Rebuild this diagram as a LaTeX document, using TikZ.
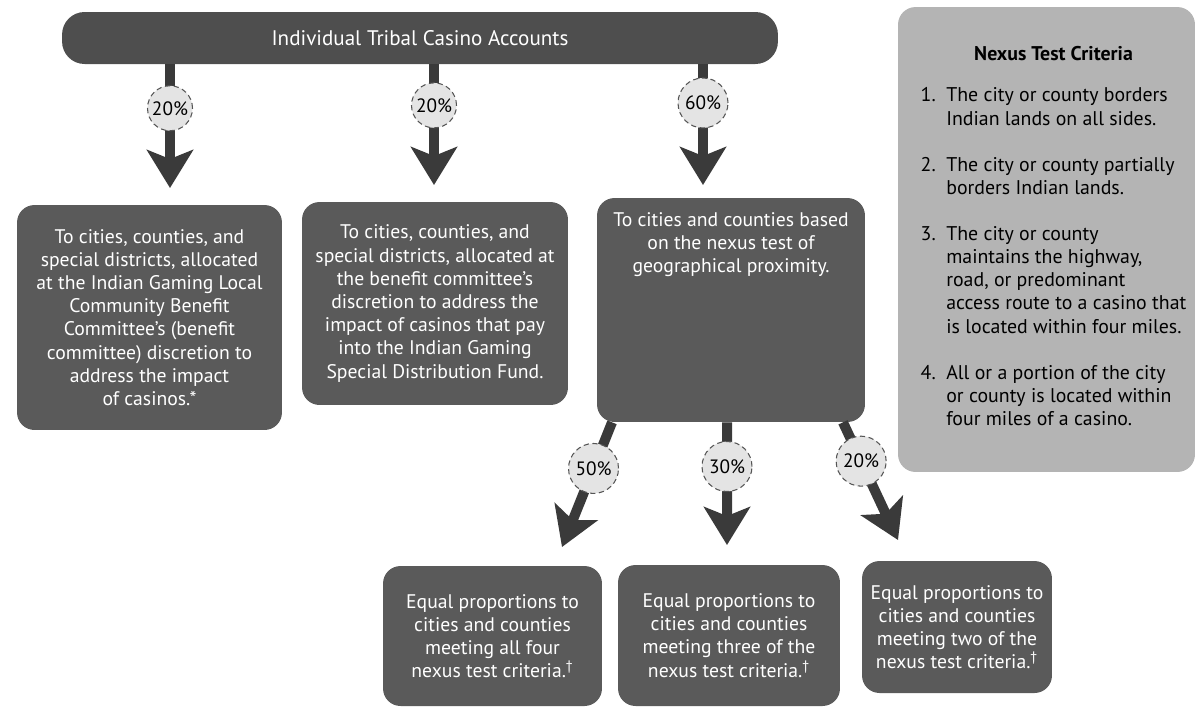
\documentclass[tikz,border=0pt]{standalone}
\usepackage{fontspec}
\setmainfont{PT Sans}
\usetikzlibrary{arrows.meta}
\definecolor{bargray}{HTML}{4E4E4E}
\definecolor{boxgray}{HTML}{5A5A5A}
\definecolor{critgray}{HTML}{B4B4B4}
\definecolor{pctgray}{HTML}{E4E4E4}
\definecolor{pctline}{HTML}{555555}
\definecolor{arrowgray}{HTML}{3A3A3A}

\begin{document}
\begin{tikzpicture} [x=0.02cm,y=-0.02cm,
	bar/.style={shape=rectangle,rounded corners=0.45cm,minimum width=14.32cm,minimum height=1.04cm,fill=bargray,text=white,font=\fontsize{12}{14}\selectfont},
	fund/.style={shape=rectangle,rounded corners=0.35cm,fill=boxgray,text=white,align=center,inner sep=2pt,font=\fontsize{11.2}{13.2}\selectfont},
	criteria/.style={shape=rectangle,rounded corners=0.35cm,fill=critgray,minimum width=5.94cm,minimum height=9.3cm,align=center,font=\fontsize{11.3}{13.2}\selectfont},
	pct/.style={shape=circle,minimum size=0.9cm,inner sep=0pt,fill=pctgray,draw=pctline,densely dashed,line width=0.6pt,font=\fontsize{11}{12}\selectfont},
	flow/.style={draw=arrowgray,line width=0.2cm,-{Stealth[length=0.76cm,width=0.92cm,inset=0.18cm]}}]
	\useasboundingbox (0,0) rectangle (1200,708);

	\node (accounts) at (420,38)[bar] {Individual Tribal Casino Accounts};

	\node (local) at (149.5,317.5)[fund,minimum width=5.3cm,minimum height=4.5cm] {To cities, counties, and\\ special districts, allocated\\ at the Indian Gaming Local\\ Community Benefit\\ Committee's (benefit\\ committee) discretion to\\ address the impact\\ of casinos.*};
	\node (special) at (435,303.5)[fund,minimum width=5.32cm,minimum height=4.06cm] {To cities, counties, and\\ special districts, allocated at\\ the benefit committee's\\ discretion to address the\\ impact of casinos that pay\\ into the Indian Gaming\\ Special Distribution Fund.};
	\node (nexusFund) at (731,310)[fund,minimum width=5.36cm,minimum height=4.48cm] {};
	\node (nexusText) at (731,206)[anchor=north,align=center,text=white,font=\fontsize{11.2}{13.2}\selectfont] {To cities and counties based\\ on the nexus test of\\ geographical proximity.};

	\node (allFour) at (492.5,636)[fund,minimum width=4.38cm,minimum height=2.8cm] {Equal proportions to\\ cities and counties\\ meeting all four\\ nexus test criteria.\textsuperscript{†}};
	\node (threeOf) at (729,635.5)[fund,minimum width=4.44cm,minimum height=2.82cm] {Equal proportions to\\ cities and counties\\ meeting three of the\\ nexus test criteria.\textsuperscript{†}};
	\node (twoOf) at (957,627)[fund,minimum width=3.8cm,minimum height=2.64cm] {Equal proportions to\\ cities and counties\\ meeting two of the\\ nexus test criteria.\textsuperscript{†}};

	\node (criteria) at (1046.5,239.5)[criteria] {\hspace*{8pt}{\bfseries Nexus Test Criteria}\\[13pt]
		\hspace*{8pt}\begin{tabular}{@{}r@{\hspace{6pt}}l@{}}
		1. & The city or county borders\\
		   & Indian lands on all sides.\\[13pt]
		2. & The city or county partially\\
		   & borders Indian lands.\\[13pt]
		3. & The city or county\\
		   & maintains the highway,\\
		   & road, or predominant\\
		   & access route to a casino that\\
		   & is located within four miles.\\[13pt]
		4. & All or a portion of the city\\
		   & or county is located within\\
		   & four miles of a casino.
		\end{tabular}};

	\coordinate (tipLocal) at (170,188);
	\coordinate (tipSpecial) at (434,185);
	\coordinate (tipNexus) at (703,185);
	\draw[flow] (accounts.south -| tipLocal) -- node[pct,pos=.355] {20\%} (tipLocal);
	\draw[flow] (accounts.south -| tipSpecial) -- node[pct,pos=.34] {20\%} (tipSpecial);
	\draw[flow] (accounts.south -| tipNexus) -- node[pct,pos=.32,minimum size=1cm] {60\%} (tipNexus);

	\coordinate (tipFour) at (562,547);
	\coordinate (tipThree) at (727,545);
	\coordinate (tipTwo) at (898,540);
	\draw[flow] ([xshift=-2.38cm]nexusFund.south) -- node[pct,pos=.37,minimum size=1cm] {50\%} (tipFour);
	\draw[flow] ([xshift=-0.08cm]nexusFund.south) -- node[pct,pos=.36,minimum size=1cm] {30\%} (tipThree);
	\draw[flow] ([xshift=2.24cm]nexusFund.south) -- node[pct,pos=.33,minimum size=1cm] {20\%} (tipTwo);
\end{tikzpicture}
\end{document}
